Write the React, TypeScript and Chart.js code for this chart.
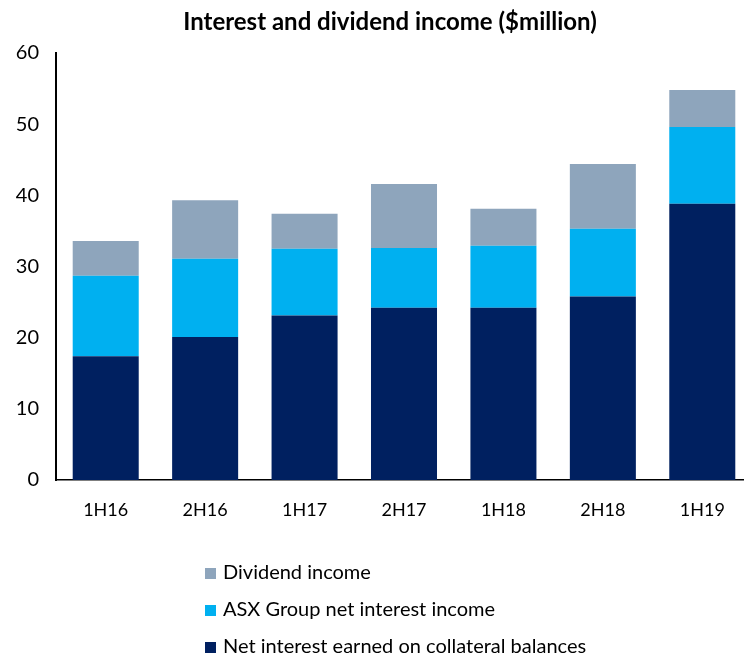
import React, { useEffect, useRef } from "react";
import { Chart, registerables } from "chart.js";

Chart.register(...registerables);

const categories = ["1H16", "2H16", "1H17", "2H17", "1H18", "2H18", "1H19"];
const collateralInterest = [17.4, 20.1, 23.1, 24.2, 24.2, 25.8, 38.8];
const asxNetInterest = [11.3, 11.0, 9.4, 8.4, 8.7, 9.5, 10.8];
const dividendIncome = [4.9, 8.2, 4.9, 9.0, 5.2, 9.1, 5.2];
const yTicks = [0, 10, 20, 30, 40, 50, 60];

const seriesNames = [
  "Net interest earned on collateral balances",
  "ASX Group net interest income",
  "Dividend income",
];
const seriesColors = ["#002060", "#00B0F0", "#8EA5BC"];
const titleText = "Interest and dividend income ($million)";

const FONT = "Lato, 'Open Sans', sans-serif";

export default function App() {
  const ref = useRef<HTMLCanvasElement | null>(null);

  useEffect(() => {
    if (!ref.current) return;
    const overlay = {
      id: "overlay",
      afterDraw(chart: any) {
        const ctx = chart.ctx;
        ctx.save();
        ctx.fillStyle = "#000";
        ctx.font = `bold 24px ${FONT}`;
        ctx.textAlign = "center";
        ctx.textBaseline = "alphabetic";
        ctx.fillText(titleText, 390, 30);
        // legend (reverse order, vertical)
        const rows = [2, 1, 0];
        ctx.font = `20px ${FONT}`;
        ctx.textAlign = "left";
        rows.forEach((di, i) => {
          const base = chart.chartArea.bottom + 99 + i * 37;
          ctx.fillStyle = seriesColors[di];
          ctx.fillRect(205, base - 11, 11, 11);
          ctx.fillStyle = "#000";
          ctx.fillText(seriesNames[di], 223, base);
        });
        ctx.restore();
      },
    };

    const chart = new Chart(ref.current, {
      type: "bar",
      data: {
        labels: categories,
        datasets: [
          { label: seriesNames[0], data: collateralInterest, backgroundColor: seriesColors[0] },
          { label: seriesNames[1], data: asxNetInterest, backgroundColor: seriesColors[1] },
          { label: seriesNames[2], data: dividendIncome, backgroundColor: seriesColors[2] },
        ],
      },
      options: {
        responsive: false,
        animation: false,
        layout: { padding: { left: 0, right: 32, top: 53, bottom: 134 } },
        datasets: { bar: { barPercentage: 1, categoryPercentage: 0.664 } },
        plugins: {
          legend: { display: false },
          title: { display: false },
          tooltip: { enabled: false },
        },
        scales: {
          x: {
            stacked: true,
            grid: { display: false, drawTicks: false },
            border: { display: true, color: "#000", width: 1.5 },
            ticks: { color: "#000", padding: 19, font: { family: FONT, size: 18 } },
            afterFit: (s: any) => { s.height = 40; },
          },
          y: {
            stacked: true,
            min: yTicks[0],
            max: yTicks[yTicks.length - 1],
            afterBuildTicks: (s: any) => { s.ticks = yTicks.map((v) => ({ value: v })); },
            grid: { display: false, drawTicks: false },
            border: { display: true, color: "#000", width: 2 },
            ticks: { color: "#000", padding: 17, font: { family: FONT, size: 20 } },
            afterFit: (s: any) => { s.width = 56; },
          },
        },
      },
      plugins: [overlay],
    });
    return () => chart.destroy();
  }, []);

  return (
    <div style={{ position: "absolute", left: 0, top: 0, width: 744, height: 654, overflow: "hidden", background: "#fff" }}>
      <canvas ref={ref} width={784} height={654} style={{ display: "block" }} />
    </div>
  );
}
